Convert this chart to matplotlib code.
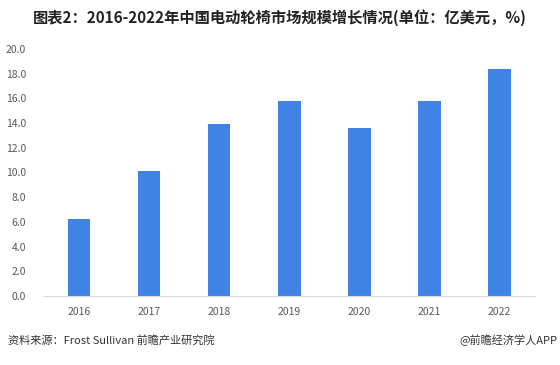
import matplotlib.pyplot as plt

plt.rcParams['font.family'] = ['Noto Sans CJK SC', 'DejaVu Sans']

years = ["2016", "2017", "2018", "2019", "2020", "2021", "2022"]
values = [6.2, 10.1, 13.9, 15.8, 13.6, 15.8, 18.4]
yticks = [0, 2, 4, 6, 8, 10, 12, 14, 16, 18, 20]

fig = plt.figure(figsize=(5.6, 3.65), dpi=100)
ax = fig.add_axes([0.0786, 0.189, 0.876, 0.677])

ax.bar(range(len(years)), values, width=0.32, color="#3f84e5", zorder=2)
ax.set_xlim(-0.5, len(years) - 0.5)
ax.set_ylim(0, 20)
ax.set_yticks(yticks)
ax.set_yticklabels([f"{v:.1f}" for v in yticks], fontsize=7.5, color="#595959")
ax.set_xticks(range(len(years)))
ax.set_xticklabels(years, fontsize=7.5, color="#595959")
ax.tick_params(length=0, pad=8)
ax.tick_params(axis="y", pad=13)
for s in ["top", "right", "left"]:
    ax.spines[s].set_visible(False)
ax.spines["bottom"].set_color("#d9d9d9")

fig.text(0.5, 0.951, "图表2：2016-2022年中国电动轮椅市场规模增长情况(单位：亿美元，%)",
         ha="center", va="center", fontsize=11, fontweight="bold", color="#222222")
fig.text(0.014, 0.068, "资料来源：Frost Sullivan 前瞻产业研究院",
         ha="left", va="center", fontsize=8, color="#333333")
fig.text(0.995, 0.068, "@前瞻经济学人APP",
         ha="right", va="center", fontsize=8, color="#333333")

fig.savefig("out.png", dpi=100)
